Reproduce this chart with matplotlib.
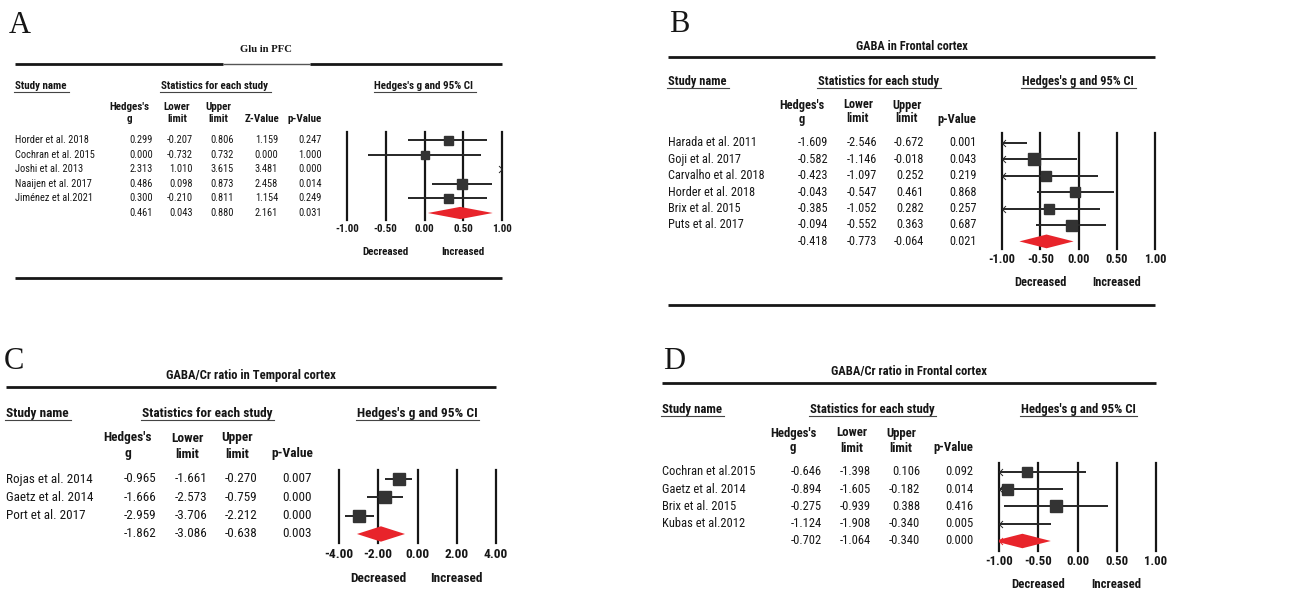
import matplotlib
matplotlib.use("Agg")
import matplotlib.pyplot as plt
from matplotlib import font_manager, transforms
from matplotlib.font_manager import FontProperties
from matplotlib.lines import Line2D

# ---------------- data ----------------
# A: Glu in PFC
studies_a = ["Horder et al. 2018", "Cochran et al. 2015", "Joshi et al. 2013",
             "Naaijen et al. 2017", "Jiménez et al.2021"]
g_a = [0.299, 0.000, 2.313, 0.486, 0.300]
lower_a = [-0.207, -0.732, 1.010, 0.098, -0.210]
upper_a = [0.806, 0.732, 3.615, 0.873, 0.811]
z_a = [1.159, 0.000, 3.481, 2.458, 1.154]
p_a = [0.247, 1.000, 0.000, 0.014, 0.249]
pooled_a = [0.461, 0.043, 0.880, 2.161, 0.031]   # g, lower, upper, z, p

# B: GABA in Frontal cortex
studies_b = ["Harada et al. 2011", "Goji et al. 2017", "Carvalho et al. 2018",
             "Horder et al. 2018", "Brix et al. 2015", "Puts et al. 2017"]
g_b = [-1.609, -0.582, -0.423, -0.043, -0.385, -0.094]
lower_b = [-2.546, -1.146, -1.097, -0.547, -1.052, -0.552]
upper_b = [-0.672, -0.018, 0.252, 0.461, 0.282, 0.363]
p_b = [0.001, 0.043, 0.219, 0.868, 0.257, 0.687]
pooled_b = [-0.418, -0.773, -0.064, 0.021]       # g, lower, upper, p

# C: GABA/Cr ratio in Temporal cortex
studies_c = ["Rojas et al. 2014", "Gaetz et al. 2014", "Port et al. 2017"]
g_c = [-0.965, -1.666, -2.959]
lower_c = [-1.661, -2.573, -3.706]
upper_c = [-0.270, -0.759, -2.212]
p_c = [0.007, 0.000, 0.000]
pooled_c = [-1.862, -3.086, -0.638, 0.003]

# D: GABA/Cr ratio in Frontal cortex
studies_d = ["Cochran et al.2015", "Gaetz et al. 2014", "Brix et al. 2015", "Kubas et al.2012"]
g_d = [-0.646, -0.894, -0.275, -1.124]
lower_d = [-1.398, -1.605, -0.939, -1.908]
upper_d = [0.106, -0.182, 0.388, -0.340]
p_d = [0.092, 0.014, 0.416, 0.005]
pooled_d = [-0.702, -1.064, -0.340, 0.000]

ticks_ab = [-1.0, -0.5, 0.0, 0.5, 1.0]
ticks_c = [-4.0, -2.0, 0.0, 2.0, 4.0]

# ---------------- fonts / style ----------------
W, H = 1293, 602
fl = font_manager.fontManager.ttflist


def _w(f):
    try:
        return int(f.weight)
    except (TypeError, ValueError):
        return 700 if "bold" in str(f.weight).lower() else 400


def pick_sans():
    # the original uses Arial Narrow; take a narrow sans with static bold if there is one
    for c in ["Liberation Sans Narrow", "Arial Narrow", "Roboto Condensed",
              "PT Sans Narrow"]:
        ents = [f for f in fl if f.name == c and "[" not in f.fname]
        if any(_w(f) >= 600 for f in ents) and any(_w(f) <= 500 for f in ents):
            return c
    return "Liberation Sans"


SANS = pick_sans()
SERIF = "Liberation Serif"
INK = "#161616"
BOX = "#333333"
RED = "#e8242b"

fig = plt.figure(figsize=(W / 100, H / 100), dpi=100)
fig.patch.set_facecolor("white")
renderer = fig.canvas.get_renderer()
underlined = []


def fit(text, target_px, weight="normal", family=None):
    # font size (pt) that makes `text` as wide as it is in the reference
    fp = FontProperties(family=family or SANS, weight=weight, size=10)
    w, _, _ = renderer.get_text_width_height_descent(text, fp, ismath=False)
    return 10 * target_px / w


def fx(x):
    return x / W


def fy(y):
    return 1 - y / H


def hline(x0, x1, y, lw=1.8, color=INK):
    fig.add_artist(Line2D([fx(x0), fx(x1)], [fy(y), fy(y)], lw=lw, color=color,
                          solid_capstyle="butt"))


def chevron(ax, x, y, side, color):
    # small open arrow for a CI that runs off the scale
    verts = [(1, 1), (0, 0), (1, -1)] if side == "left" else [(-1, 1), (0, 0), (-1, -1)]
    ax.plot([x], [y], marker=verts, ms=5, mfc="none", mec=color, mew=0.7,
            clip_on=False, zorder=5)


def draw_panel(lay, studies, g, lo, hi, cols, pooled, ticks, box_px):
    fs = fit(studies[0], lay["name_w"])
    fb = fit("Statistics for each study", lay["stats_w"], "bold")
    tfam = lay.get("title_font", SANS)
    tfs = fit(lay["title_txt"], lay["title_w"], "bold", tfam)

    # panel letter + title + rules
    fig.text(fx(lay["letter"][0]), fy(lay["letter"][1]), lay["label"], family=SERIF,
             fontsize=22, color=INK, va="baseline", ha="left")
    fig.text(fx(lay["title"][0]), fy(lay["title"][1]), lay["title_txt"], family=tfam,
             fontsize=tfs, fontweight="bold", color=INK, ha="center", va="center")
    if lay.get("rule_gap"):
        g0, g1 = lay["rule_gap"]
        hline(lay["x0"], g0, lay["rule"], lw=2.0)
        hline(g0, g1, lay["rule"], lw=1.0, color="#555555")
        hline(g1, lay["x1"], lay["rule"], lw=2.0)
    else:
        hline(lay["x0"], lay["x1"], lay["rule"], lw=2.0)
    if lay.get("bottom_rule"):
        hline(lay["x0"], lay["x1"], lay["bottom_rule"], lw=2.0)

    # group headers (underlined later)
    gy = fy(lay["group_y"])
    kw = dict(family=SANS, fontsize=fb, fontweight="bold", color=INK, va="center")
    underlined.append(fig.text(fx(lay["x0"]), gy, "Study name", ha="left", **kw))
    underlined.append(fig.text(fx(lay["stats_cx"]), gy, "Statistics for each study",
                               ha="center", **kw))
    underlined.append(fig.text(fx(lay["ci_cx"]), gy, "Hedges's g and 95% CI",
                               ha="center", **kw))

    # forest axes
    ax0, ax1, ay0, ay1 = lay["axes"]
    ax = fig.add_axes([fx(ax0), fy(ay1), (ax1 - ax0) / W, (ay1 - ay0) / H])
    r0, sp = lay["row0"], lay["row_sp"]
    ax.set_ylim((ay1 - r0) / sp, (ay0 - r0) / sp)
    ax.set_xlim(ticks[0], ticks[-1])
    ax.patch.set_alpha(0)
    for s in ax.spines.values():
        s.set_visible(False)
    ax.set_yticks([])
    ax.set_xticks(ticks)
    ax.set_xticklabels([f"{t:.2f}" for t in ticks], family=SANS, fontsize=fb,
                       fontweight="bold", color=INK)
    ax.tick_params(axis="x", length=0, pad=lay["tick_pad"])
    for t in ticks:
        ax.axvline(t, color=INK, lw=1.6, clip_on=False, zorder=1)

    xmin, xmax = ticks[0], ticks[-1]
    for i in range(len(studies)):
        ax.plot([lo[i], hi[i]], [i, i], color="#262626", lw=1.4, zorder=2,
                solid_capstyle="butt")
        if xmin <= g[i] <= xmax:
            ax.plot([g[i]], [i], marker="s", ms=box_px[i] * 0.72, color=BOX,
                    mec=BOX, zorder=4)
        if lo[i] < xmin:
            chevron(ax, xmin, i, "left", "#262626")
        if hi[i] > xmax:
            chevron(ax, xmax, i, "right", "#262626")
    k = len(studies)
    pg, plo, phi = pooled[0], pooled[1], pooled[2]
    hh = 0.42
    ax.fill([plo, pg, phi, pg], [k, k - hh, k, k + hh], color=RED, lw=0, zorder=3)
    if plo < xmin:
        chevron(ax, xmin, k, "left", RED)

    # Decreased / Increased under the axis
    bt = transforms.blended_transform_factory(ax.transData, fig.transFigure)
    for xt, word in [(ticks[1], "Decreased"), (ticks[3], "Increased")]:
        fig.text(xt, fy(lay["dir_y"]), word, transform=bt, ha="center", va="center",
                 family=SANS, fontsize=fb, fontweight="bold", color=INK)

    # table: names and numbers sit on the forest rows
    rt = transforms.blended_transform_factory(fig.transFigure, ax.transData)
    tkw = dict(family=SANS, fontsize=fs, color=INK, va="center", transform=rt)
    for i, name in enumerate(studies):
        fig.text(fx(lay["x0"]), i, name, ha="left", **tkw)
    hkw = dict(family=SANS, fontsize=fb, fontweight="bold", color=INK, va="center")
    h1, h2 = fy(lay["head_y"][0]), fy(lay["head_y"][1])
    for j, ((top, bottom), cx, right, vals) in enumerate(zip(lay["heads"], lay["col_cx"],
                                                              lay["col_right"], cols)):
        if top:
            fig.text(fx(cx), h1, top, ha="center", **hkw)
        fig.text(fx(cx), h2, bottom, ha="center", **hkw)
        for i, v in enumerate(list(vals) + [pooled[j]]):
            fig.text(fx(right), i, f"{v:.3f}", ha="right", **tkw)
    return ax


heads5 = [("Hedges's", "g"), ("Lower", "limit"), ("Upper", "limit"), ("", "Z-Value"), ("", "p-Value")]
heads4 = [("Hedges's", "g"), ("Lower", "limit"), ("Upper", "limit"), ("", "p-Value")]

lay_a = dict(label="A", letter=(9, 33), title=(266, 50), title_txt="Glu in PFC",
             title_font=SERIF, title_w=52, name_w=73, stats_w=107, x0=15, x1=502, rule=64,
             rule_gap=(223, 310), bottom_rule=278, group_y=86, stats_cx=215, ci_cx=424,
             head_y=(107, 119), heads=heads5, col_cx=[129, 177, 218, 262, 305],
             col_right=[153, 193, 234, 278, 322], axes=(347, 502, 132, 220),
             row0=140, row_sp=14.6, tick_pad=3.0, dir_y=252)
lay_b = dict(label="B", letter=(669, 32), title=(912, 47), title_txt="GABA in Frontal cortex",
             title_w=112, name_w=88, stats_w=121, x0=668, x1=1155, rule=57, bottom_rule=305,
             group_y=81, stats_cx=878, ci_cx=1078, head_y=(105, 119), heads=heads4,
             col_cx=[802, 858, 907, 957], col_right=[828, 877, 924, 977],
             axes=(1002, 1155, 133, 249), row0=143, row_sp=16.4, tick_pad=3.0, dir_y=282)
lay_c = dict(label="C", letter=(4, 369), title=(251, 375),
             title_txt="GABA/Cr ratio in Temporal cortex", title_w=169, name_w=86, stats_w=131,
             x0=6, x1=496, rule=387, group_y=413, stats_cx=207, ci_cx=417,
             head_y=(438, 454), heads=heads4, col_cx=[128, 187, 237, 292],
             col_right=[156, 207, 257, 312], axes=(339, 496, 470, 543),
             row0=479, row_sp=18.33, tick_pad=3.4, dir_y=578)
lay_d = dict(label="D", letter=(663, 369), title=(909, 372),
             title_txt="GABA/Cr ratio in Frontal cortex", title_w=156, name_w=93, stats_w=125,
             x0=662, x1=1156, rule=383, group_y=409, stats_cx=872, ci_cx=1078,
             head_y=(433, 448), heads=heads4, col_cx=[793, 852, 901, 953],
             col_right=[822, 871, 920, 973], axes=(999, 1156, 463, 551),
             row0=472, row_sp=17.25, tick_pad=3.0, dir_y=585)

draw_panel(lay_a, studies_a, g_a, lower_a, upper_a, [g_a, lower_a, upper_a, z_a, p_a],
           pooled_a, ticks_ab, [9, 8, 0, 9.5, 9])
draw_panel(lay_b, studies_b, g_b, lower_b, upper_b, [g_b, lower_b, upper_b, p_b],
           pooled_b, ticks_ab, [0, 11.3, 10, 10.7, 9.7, 11])
draw_panel(lay_c, studies_c, g_c, lower_c, upper_c, [g_c, lower_c, upper_c, p_c],
           pooled_c, ticks_c, [12, 11.7, 11.7])
draw_panel(lay_d, studies_d, g_d, lower_d, upper_d, [g_d, lower_d, upper_d, p_d],
           pooled_d, ticks_ab, [10, 11, 12.3, 0])

# underline the group headers
fig.canvas.draw()
for t in underlined:
    bb = t.get_window_extent(renderer)
    y = bb.y0 - 0.5
    fig.add_artist(Line2D([(bb.x0 - 1) / W, (bb.x1 + 2) / W], [y / H, y / H],
                          lw=0.8, color="#444444"))

fig.savefig("out.png", dpi=100, facecolor="white")
